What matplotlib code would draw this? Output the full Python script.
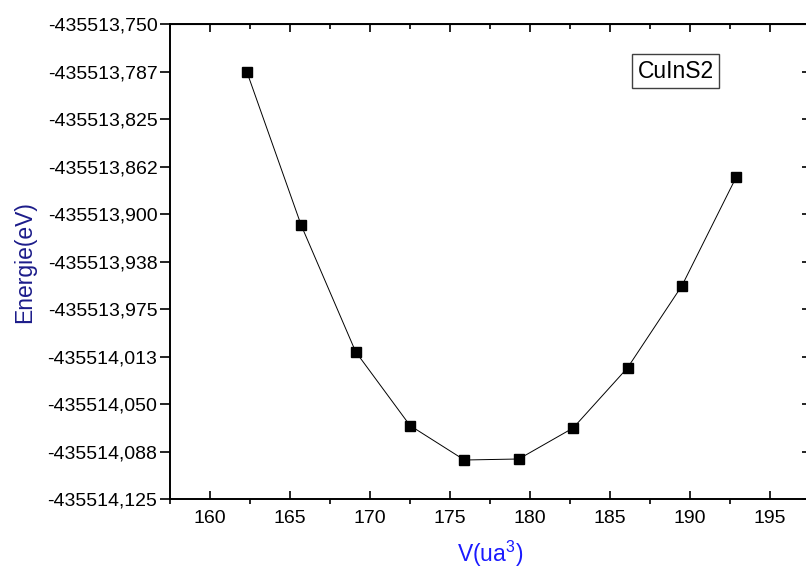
import numpy as np
import matplotlib
matplotlib.use('Agg')
import matplotlib.pyplot as plt

plt.rcParams['font.family'] = ['Liberation Sans', 'DejaVu Sans']
plt.rcParams['mathtext.default'] = 'regular'

# volume (ua^3) et energie (eV)
volume = [162.3, 165.7, 169.1, 172.5, 175.9, 179.3, 182.7, 186.1, 189.5, 192.9]
energie = [-435513.7876, -435513.9088, -435514.0085, -435514.0668,
           -435514.0940, -435514.0932, -435514.0687, -435514.0212,
           -435513.9564, -435513.8705]

x_ticks = [160, 165, 170, 175, 180, 185, 190, 195]
y_labels = ['-435513,750', '-435513,787', '-435513,825', '-435513,862',
            '-435513,900', '-435513,938', '-435513,975', '-435514,013',
            '-435514,050', '-435514,088', '-435514,125']

fig = plt.figure(figsize=(8.06, 5.71), dpi=100)
# l'axe de droite depasse un peu de l'image (comme l'original)
ax = fig.add_axes([170 / 806, 1 - 499.3 / 571, 640 / 806, 475.3 / 571])

ax.plot(volume, energie, color='black', lw=0.7, marker='s', ms=7.7,
        mfc='black', mec='black')

ax.set_xlim(157.5, 197.5)
ax.set_ylim(-435514.125, -435513.750)

y_pos = -435513.75 - 0.0375 * np.arange(len(y_labels))
ax.set_yticks(y_pos, y_labels)
ax.set_xticks(x_ticks)
ax.set_xticks(np.arange(157.5, 198, 5), minor=True)

for s in ax.spines.values():
    s.set_linewidth(1.4)

ax.tick_params(axis='x', which='major', direction='in', length=6, width=1.2,
               labelsize=14, pad=8, top=False)
ax.tick_params(axis='x', which='minor', direction='out', length=3.4,
               width=1.2, top=False)
ax.tick_params(axis='y', which='major', direction='out', length=7, width=1.2,
               labelsize=14, pad=2, right=False)

top = ax.secondary_xaxis('top')
top.set_xticks(x_ticks, [])
top.set_xticks(np.arange(157.5, 198, 5), minor=True)
top.tick_params(which='major', direction='in', length=6, width=1.2)
top.tick_params(which='minor', direction='in', length=3.4, width=1.2)

right = ax.secondary_yaxis('right')
right.set_yticks(y_pos, [])
right.tick_params(direction='in', length=6, width=1.2)

ax.set_xlabel(r'V(ua$^3$)', fontsize=16.5, color='#1a1aff', labelpad=8.5)
ax.set_ylabel('Energie(eV)', fontsize=16.5, color='#1c1c8a', labelpad=8)

ax.text(0.79, 0.901, 'CuInS2', transform=ax.transAxes, fontsize=16.5,
        ha='center', va='center',
        bbox=dict(boxstyle='square,pad=0.25', fc='white', ec='#404040',
                  lw=1.0))

fig.savefig('out.png', dpi=100)
